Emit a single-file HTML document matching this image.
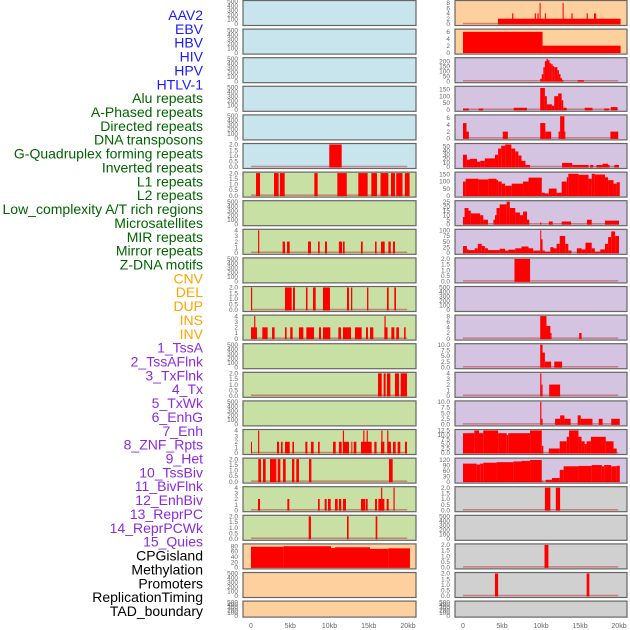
<!DOCTYPE html>
<html><head><meta charset="utf-8">
<style>
html,body{margin:0;padding:0;background:#fff;width:630px;height:630px;overflow:hidden}
svg{display:block;font-family:"Liberation Sans",sans-serif}
</style></head>
<body>
<svg id="chart" width="630" height="630" viewBox="0 0 630 630" xmlns="http://www.w3.org/2000/svg"></svg>
<script>
// ---- track labels ----
const labelNames = ["AAV2","EBV","HBV","HIV","HPV","HTLV-1","Alu repeats","A-Phased repeats","Directed repeats","DNA transposons","G-Quadruplex forming repeats","Inverted repeats","L1 repeats","L2 repeats","Low_complexity A/T rich regions","Microsatellites","MIR repeats","Mirror repeats","Z-DNA motifs","CNV","DEL","DUP","INS","INV","1_TssA","2_TssAFlnk","3_TxFlnk","4_Tx","5_TxWk","6_EnhG","7_Enh","8_ZNF_Rpts","9_Het","10_TssBiv","11_BivFlnk","12_EnhBiv","13_ReprPC","14_ReprPCWk","15_Quies","CPGisland","Methylation","Promoters","ReplicationTiming","TAD_boundary"];
const labelGroups = ["v","v","v","v","v","v","r","r","r","r","r","r","r","r","r","r","r","r","r","s","s","s","s","s","c","c","c","c","c","c","c","c","c","c","c","c","c","c","c","o","o","o","o","o"];
const xTickLabels = ["0","5kb","10kb","15kb","20kb"];
const xTickValues = [0,5,10,15,20];

// ---- left column data: [startKb, endKb, value] ----
const L5 = [[9.97,11.55,2]];
const L6 = [[0.64,1.15,2],[2.93,3.52,2],[3.69,4.29,2],[8.07,8.49,2],[11.0,12.2,2],[13.67,14.86,2],[15.33,16.05,2],[16.5,17.5,2],[17.83,18.34,2],[18.5,19.3,2],[19.6,20.2,2]];
const L8 = [[0.9,1.05,4],[4.03,4.33,2],[4.59,4.93,2],[7.26,7.64,2],[8.54,8.75,2],[9.43,9.68,2],[11.2,11.6,2],[11.72,11.93,2],[14.01,14.23,2],[15.8,16.0,2],[16.56,17.03,2],[17.5,17.8,2],[18.09,18.34,2]];
const L10 = [[0,0.15,2],[4.33,5.18,2],[5.35,5.6,2],[7.0,7.2,2],[7.9,8.24,2],[9.17,10.06,2],[12.23,12.48,2],[12.74,12.9,2],[14.78,14.95,2],[17.32,17.54,2],[18.26,18.47,2]];
const L11 = [[0,0.76,2],[0.4,0.55,4],[1.44,2.12,2],[2.68,3.01,2],[4.33,4.54,2],[5.0,5.3,2],[6.11,6.67,2],[7.05,8.03,2],[8.66,8.92,2],[9.17,10.1,2],[11.13,11.46,2],[11.72,12.74,2],[13.25,14.1,2],[14.65,14.9,2],[15.16,15.58,2],[16.99,17.4,2],[17.0,17.15,4],[17.88,18.26,2],[18.51,18.85,2],[19.5,19.7,2]];
const L13 = [[16.18,16.65,2],[16.9,17.15,2],[17.32,17.75,2],[18.34,18.85,2],[19.07,19.87,2]];
const L15 = [[0,0.1,2],[0.9,1.05,4],[3.31,3.57,2],[3.82,4.03,2],[4.33,4.93,2],[5.27,5.48,2],[6.92,7.18,2],[7.64,7.98,2],[8.54,8.75,2],[10.45,10.79,2],[11.2,11.55,2],[11.7,11.85,4],[11.8,12.48,2],[12.78,12.9,2],[13.08,13.42,2],[14.01,15.37,2],[14.3,14.45,4],[14.73,14.88,4],[15.71,16.0,2],[16.56,16.99,2],[16.6,16.75,4],[17.37,17.83,2],[17.35,17.5,4],[18.09,18.43,2],[18.68,19.02,2],[19.62,19.87,2]];
const L16 = [[0.93,1.27,2],[1.53,1.87,2],[2.42,3.23,2],[3.4,3.74,2],[4.08,4.42,2],[5.22,5.52,2],[5.77,6.11,2],[7.39,7.69,2],[17.58,18.05,2]];
const L17 = [[0.89,1.15,2],[4.63,4.88,2],[8.54,8.75,2],[9.38,9.64,2],[9.81,10.15,2],[10.7,11.04,2],[11.2,11.5,2],[11.72,12.1,2],[14.01,14.52,2],[14.6,14.86,2],[15.8,16.05,2],[16.22,16.99,2],[16.57,16.72,4],[17.28,17.54,2],[18.15,18.3,4]];
const L18 = [[7.35,7.64,2],[12.23,12.44,2],[15.88,16.09,2]];
const L19 = [[0,4.12,78],[4.12,10.19,80],[10.19,10.7,73],[10.7,15.16,76],[15.16,17.5,70],[17.5,20.25,72]];

// ---- right column data ----
const R0 = [[4.48,20.2,2],[6.3,6.45,4],[9.2,9.35,4],[9.55,9.7,4],[9.82,9.95,8],[10.5,10.6,4],[12.77,12.9,8],[13.9,14.05,4],[15.85,16.0,4],[16.8,16.95,4],[16.95,17.05,4]];
const R1 = [[0,10.2,6],[10.2,20.2,2]];
const R2 = [[9.9,10.1,25],[10.1,10.3,70],[10.3,10.5,140],[10.5,10.7,200],[10.7,10.9,220],[10.9,11.1,210],[11.1,11.3,180],[11.3,11.5,170],[11.5,11.7,150],[11.7,12.1,140],[12.1,12.3,110],[12.3,12.5,70],[12.5,12.7,30],[12.7,12.9,10],[14.7,15.5,10]];
const R3 = [[0,0.75,10],[2.0,2.6,10],[6.5,8.2,15],[9.9,10.5,160],[10.5,10.75,100],[10.75,11.4,40],[11.4,11.7,30],[11.7,12.2,100],[12.2,12.65,120],[12.65,12.85,70],[12.85,13.3,15],[15.6,16.6,15],[18.1,18.75,10],[18.95,19.8,20]];
const R4 = [[0,0.45,4.5],[0.45,0.75,2],[5.1,5.75,2],[9.9,10.55,4.5],[10.55,11.3,2],[12.25,12.45,2],[12.45,13.0,6.5],[13.0,13.1,2],[18.9,19.9,2]];
const R5 = [[0,0.5,30],[0.5,0.9,18],[0.9,1.8,20],[1.8,2.2,13],[2.2,2.8,15],[2.8,4.1,21],[4.1,4.5,30],[4.5,4.9,45],[4.9,5.4,52],[5.4,6.2,55],[6.2,6.7,45],[6.7,7.1,38],[7.1,7.5,28],[7.5,8.0,15],[8.0,8.6,5],[12.7,14.0,10],[14.0,16.1,5],[16.3,16.7,5],[17.1,17.9,5],[17.9,18.6,8],[18.6,18.8,5],[19.4,20,5]];
const R6 = [[0,0.34,100],[0.34,1.97,120],[1.97,3.25,115],[3.25,4.3,120],[4.3,4.5,110],[4.5,4.96,100],[4.96,5.4,85],[5.4,6.24,70],[6.24,7.7,85],[7.7,8.4,100],[8.4,10.1,128],[10.1,10.5,20],[10.5,11.0,15],[11.0,12.0,50],[12.0,12.65,20],[12.65,13.3,100],[13.3,13.5,130],[13.5,14.8,155],[14.8,16.1,148],[16.1,16.5,120],[16.5,16.9,155],[16.9,18.2,150],[18.2,18.6,130],[18.6,19.3,110],[19.3,19.7,85],[19.7,20.1,95]];
const R7 = [[0,0.2,8],[0.2,0.7,18],[0.7,1.0,15],[1.0,2.2,12],[2.2,2.6,10],[2.6,3.2,5],[3.9,4.1,5],[4.1,4.3,10],[4.3,4.7,18],[4.7,5.6,22],[5.6,6.0,25],[6.0,6.7,18],[6.7,7.3,13],[7.3,7.7,10],[7.7,8.2,14],[8.2,8.5,5],[9.9,10.0,2],[11.0,11.5,3],[12.65,13.85,3],[15.9,16.5,5],[18.2,20,4]];
const R8 = [[0,0.5,30],[0.5,0.7,15],[0.7,1.5,12],[1.5,1.9,20],[1.9,2.4,40],[2.4,2.8,30],[2.8,3.2,20],[3.2,4.7,12],[4.7,5.4,18],[5.4,5.8,10],[5.8,6.7,14],[6.7,7.5,20],[7.5,8.4,28],[8.4,9.0,20],[9.0,9.9,10],[9.9,10.0,100],[10.0,10.2,60],[10.2,10.5,10],[10.5,11.2,5],[11.2,11.6,25],[11.6,12.0,20],[12.0,12.4,40],[12.4,13.1,75],[13.1,13.5,40],[13.5,13.9,10],[14.6,15.2,20],[15.2,15.7,15],[15.7,16.5,45],[16.5,16.9,20],[16.9,17.6,5],[17.6,18.2,15],[18.2,18.6,40],[18.6,19.0,70],[19.0,19.5,95],[19.5,20,75]];
const R9 = [[6.6,8.6,2]];
const R11 = [[9.9,10.7,8],[10.7,11.2,4.5],[11.2,11.35,2],[14.9,15.2,2]];
const R12 = [[9.9,10.2,10],[10.2,10.5,6.5],[10.5,11.3,2.5],[11.7,12.7,2.5]];
const R13 = [[9.9,10.05,4],[10.05,10.2,2],[11.05,12.45,2]];
const R14 = [[9.9,10.05,10],[10.05,10.2,2.5],[11.8,12.45,2.5],[12.45,13.0,4],[13.0,13.8,2.5],[14.7,15.1,4],[15.1,16.6,2.5],[17.4,17.9,2.5],[19.0,20.1,2.5]];
const R15 = [[0,1.45,11],[1.45,2.05,12.5],[2.05,2.6,11],[2.6,4.5,12.5],[4.5,5.6,11],[5.6,5.8,10],[5.8,8.6,11],[8.6,10.1,12.5],[10.1,10.3,4],[11.0,12.4,2.5],[12.4,13.3,6.5],[13.3,13.6,9],[13.6,14.8,12.5],[14.8,15.2,9],[15.2,15.6,6.5],[15.6,15.85,5],[15.85,16.4,6.5],[16.4,18.3,9],[18.3,19.3,6.5],[19.3,19.7,2.5]];
const R16 = [[0,1.75,100],[1.75,2.2,95],[2.2,2.6,100],[2.6,4.3,105],[4.3,6.45,108],[6.45,7.5,112],[7.5,8.6,115],[8.6,10.1,120],[10.1,10.2,3],[10.6,11.4,10],[11.4,12.4,20],[12.4,12.9,65],[12.9,14.8,85],[14.8,16.5,87],[16.5,17.8,92],[17.8,18.1,85],[18.1,19.0,92],[19.0,19.7,85],[19.7,20.1,88]];
const R17 = [[10.5,11.2,2],[11.9,12.45,2]];
const R19 = [[10.45,10.95,2]];
const R20 = [[4.1,4.5,2],[15.85,16.2,2]];

// ---- per-panel y-axis ticks ----
const T_EMPTY = [0,100,200,300,400,500];
const T_2 = [0,0.5,1,1.5,2];
const T_4 = [0,1,2,3,4];

const leftPanels = [
 [null,500,T_EMPTY],[null,500,T_EMPTY],[null,500,T_EMPTY],[null,500,T_EMPTY],[null,500,T_EMPTY],
 [L5,2,T_2],[L6,2,T_2],[null,500,T_EMPTY],[L8,4,T_4],[null,500,T_EMPTY],[L10,2,T_2],[L11,4,T_4],
 [null,500,T_EMPTY],[L13,2,T_2],[null,500,T_EMPTY],[L15,4,T_4],[L16,2,T_2],[L17,4,T_4],[L18,2,T_2],
 [L19,85,[0,20,40,60,80]],[null,500,T_EMPTY],[null,500,T_EMPTY]];
const rightPanels = [
 [R0,8.5,[0,2,4,6,8]],[R1,6.5,[0,2,4,6]],[R2,225,[0,50,100,150,200]],[R3,165,[0,50,100,150]],[R4,6.6,[0,2,4,6]],
 [R5,55,[0,10,20,30,40,50]],[R6,160,[0,50,100,150]],[R7,25,[0,5,10,15,20,25]],[R8,100,[0,25,50,75,100]],[R9,2,T_2],
 [null,500,T_EMPTY],[R11,8,[0,2,4,6,8]],[R12,10,[0,2.5,5,7.5,10]],[R13,4,T_4],[R14,10,[0,2.5,5,7.5,10]],
 [R15,12.5,[0,2.5,5,7.5,10,12.5]],[R16,125,[0,30,60,90,120]],[R17,2,T_2],[null,500,T_EMPTY],[R19,2,T_2],[R20,2,T_2],[null,500,T_EMPTY]];
const leftBgs = ["#c8e4ec","#c8e4ec","#c8e4ec","#c8e4ec","#c8e4ec","#c8e4ec","#c8e0a4","#c8e0a4","#c8e0a4","#c8e0a4","#c8e0a4","#c8e0a4","#c8e0a4","#c8e0a4","#c8e0a4","#c8e0a4","#c8e0a4","#c8e0a4","#c8e0a4","#fdd09e","#fdd09e","#fdd09e"];
const rightBgs = ["#fdd09e","#fdd09e","#d5c4e1","#d5c4e1","#d5c4e1","#d5c4e1","#d5c4e1","#d5c4e1","#d5c4e1","#d5c4e1","#d5c4e1","#d5c4e1","#d5c4e1","#d5c4e1","#d5c4e1","#d5c4e1","#d5c4e1","#d0d0d0","#d0d0d0","#d0d0d0","#d0d0d0","#d0d0d0"];

const NS = "http://www.w3.org/2000/svg";
const svg = document.getElementById("chart");
function mk(tag, attrs, parent){ const e=document.createElementNS(NS,tag); for(const k in attrs) e.setAttribute(k,attrs[k]); (parent||svg).appendChild(e); return e; }

const groupColor = {v:"#1a1aff",r:"#006400",s:"#ffa500",c:"#8a2be2",o:"#000000"};
labelNames.forEach((name,i)=>{
  const t = mk("text",{x:203,y:15+i*13.86+5,"text-anchor":"end","font-size":"14",fill:groupColor[labelGroups[i]]});
  t.textContent = name;
  
  
});

const cols = [
  {x0:243,x1:416,k0:251,k1:408,panels:leftPanels,bgs:leftBgs,tickX:238,name:"left"},
  {x0:455,x1:627,k0:463,k1:619,panels:rightPanels,bgs:rightBgs,tickX:450,name:"right"}];
function fmt(v,ticks){ const dec = ticks.some(t=>t%1!==0); if(!dec) return String(v); return ticks.some(t=>(t*10)%1!==0)?v.toFixed(1):v.toFixed(1); }

cols.forEach(col=>{
  const xs = kb => col.k0 + (kb/20)*(col.k1-col.k0);
  col.panels.forEach((p,i)=>{
    const top = 0.5 + i*28.6;
    const h = (i===21)?16:25;
    const g = mk("g",{});
    
    
    const bg = mk("rect",{x:col.x0,y:top,width:col.x1-col.x0,height:h,fill:col.bgs[i]},g);
    
    
    const segs=p[0], ymax=p[1], ticks=p[2];
    const y0 = top+h-1.5, y1 = top+1;
    const ys = v => y0 - (v/ymax)*(y0-y1);
    if(segs){
      const base = mk("line",{x1:xs(0),x2:xs(19.9),y1:y0-0.5,y2:y0-0.5,stroke:"rgba(190,60,60,0.55)","stroke-width":1.5},g);
      
      
      segs.forEach(s=>{
        const xa=xs(s[0]), xb=xs(s[1]);
        const r = mk("rect",{x:xa,y:ys(s[2]),width:Math.max(1,xb-xa),height:y0-ys(s[2])+0.5,fill:"#ff0000"},g);
        
        
      });
    }
    const br = mk("rect",{x:col.x0,y:top,width:col.x1-col.x0,height:h,fill:"none",stroke:"#666","stroke-width":1.2},g);
    
    
    ticks.forEach(v=>{
      const t = mk("text",{x:col.tickX,y:ys(v)+2.2,"text-anchor":"end","font-size":"6.5",fill:"#666"},g);
      t.textContent = fmt(v,ticks);
      
      
    });
  });
  xTickValues.forEach((v,j)=>{
    const t = mk("text",{x:xs(v),y:628,"text-anchor":"middle","font-size":"7",fill:"#666"});
    t.textContent = xTickLabels[j];
    
    
  });
});
</script>
</body></html>
